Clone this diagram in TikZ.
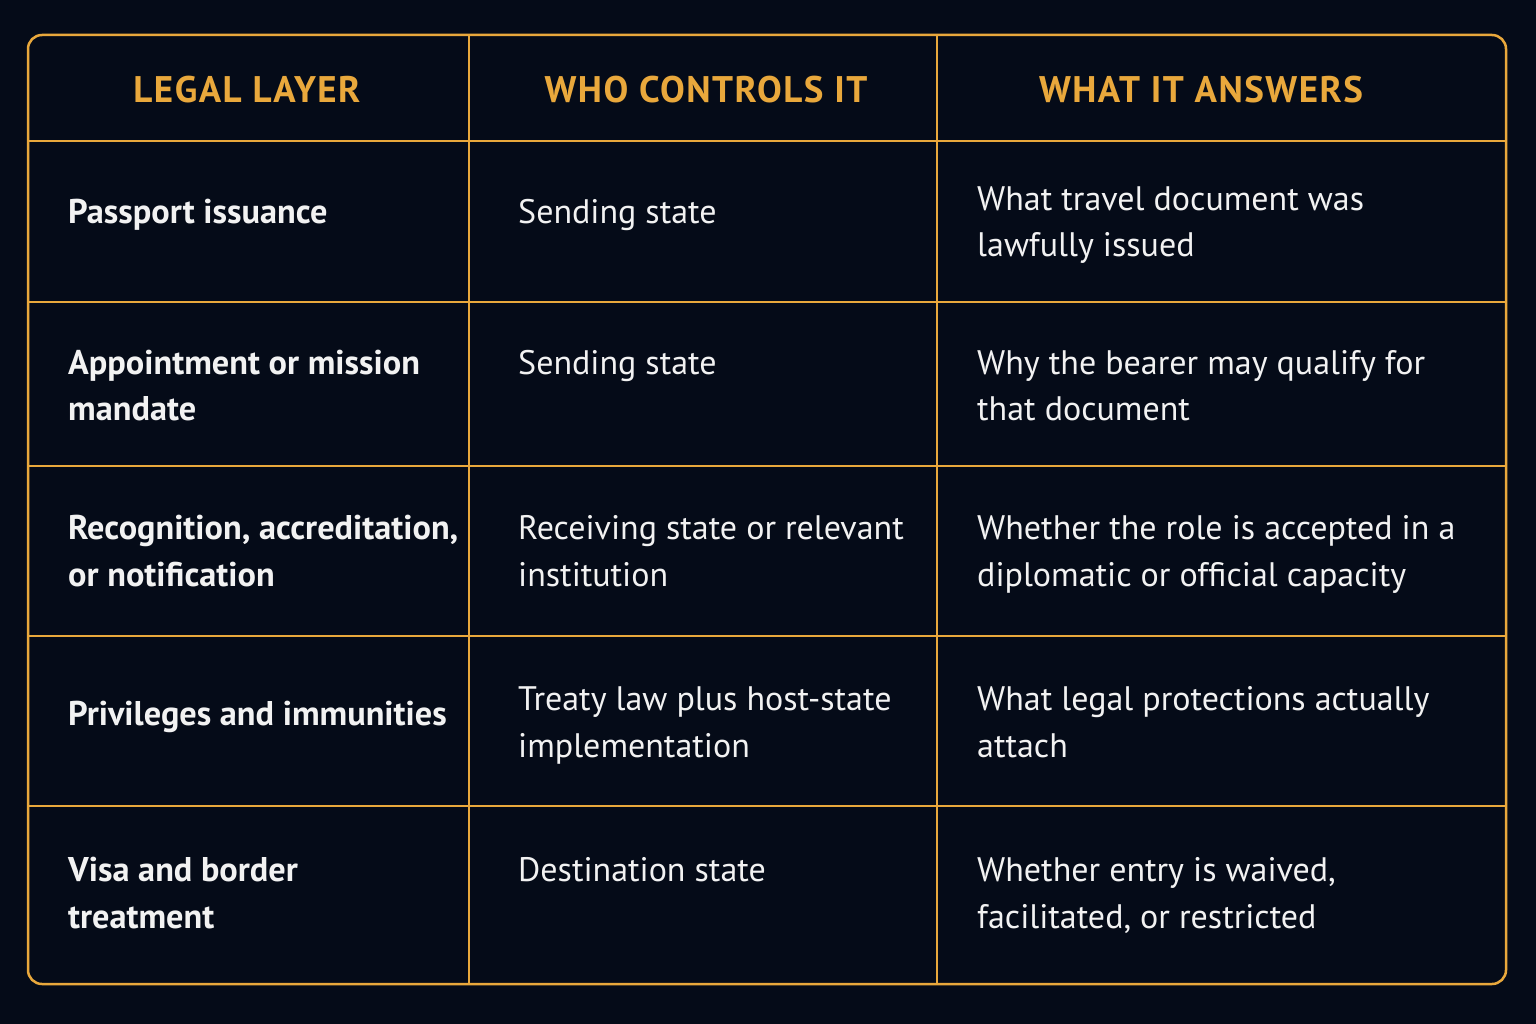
\documentclass[tikz,border=0pt]{standalone}
\usepackage{fontspec}
\setmainfont{PT Sans}
\definecolor{bg}{HTML}{050B18}
\definecolor{gold}{HTML}{E9A83C}
\definecolor{txt}{HTML}{F2F2F2}
\begin{document}
\begin{tikzpicture}[x=1pt,y=-1pt,
  grid/.style={draw=gold,line width=2.5pt},
  head/.style={text=gold,font=\fontsize{37}{44}\selectfont\bfseries\addfontfeature{LetterSpace=4},anchor=base},
  cellb/.style={text=txt,font=\fontsize{34.3}{46}\selectfont\bfseries,anchor=base west,inner sep=0pt},
  cell/.style={text=txt,font=\fontsize{34}{46}\selectfont,anchor=base west,inner sep=0pt}]
\useasboundingbox (0,0) rectangle (1536,1024);
\fill[bg] (0,0) rectangle (1536,1024);
% table frame
\draw[grid,rounded corners=14pt,fill=bg] (28,35) rectangle (1506,984);
\draw[grid] (469,35) -- (469,984);
\draw[grid] (937,35) -- (937,984);
\foreach \yy in {141,302,466,636,806} \draw[grid] (28,\yy) -- (1506,\yy);
% headers
\node[head] (h1) at (247,103) {LEGAL LAYER};
\node[head] (h2) at (706,103) {WHO CONTROLS IT};
\node[head] (h3) at (1201,103) {WHAT IT ANSWERS};
% row 1
\node[cellb] (r1a) at (68,224) {Passport issuance};
\node[cell] (r1b) at (518,224) {Sending state};
\node[cell] (r1c1) at (977,211) {What travel document was};
\node[cell] (r1c2) at (977,257) {lawfully issued};
% row 2
\node[cellb] (r2a1) at (68,374) {Appointment or mission};
\node[cellb] (r2a2) at (68,420) {mandate};
\node[cell] (r2b) at (518,374) {Sending state};
\node[cell] (r2c1) at (977,374) {Why the bearer may qualify for};
\node[cell] (r2c2) at (977,420) {that document};
% row 3
\node[cellb] (r3a1) at (68,539) {Recognition, accreditation,};
\node[cellb] (r3a2) at (68,586) {or notification};
\node[cell] (r3b1) at (518,539) {Receiving state or relevant};
\node[cell] (r3b2) at (518,586) {institution};
\node[cell] (r3c1) at (977,539) {Whether the role is accepted in a};
\node[cell] (r3c2) at (977,586) {diplomatic or official capacity};
% row 4
\node[cellb] (r4a) at (68,725) {Privileges and immunities};
\node[cell] (r4b1) at (518,710) {Treaty law plus host-state};
\node[cell] (r4b2) at (518,757) {implementation};
\node[cell] (r4c1) at (977,710) {What legal protections actually};
\node[cell] (r4c2) at (977,757) {attach};
% row 5
\node[cellb] (r5a1) at (68,881) {Visa and border};
\node[cellb] (r5a2) at (68,928) {treatment};
\node[cell] (r5b) at (518,881) {Destination state};
\node[cell] (r5c1) at (977,881) {Whether entry is waived,};
\node[cell] (r5c2) at (977,928) {facilitated, or restricted};
\end{tikzpicture}
\end{document}
